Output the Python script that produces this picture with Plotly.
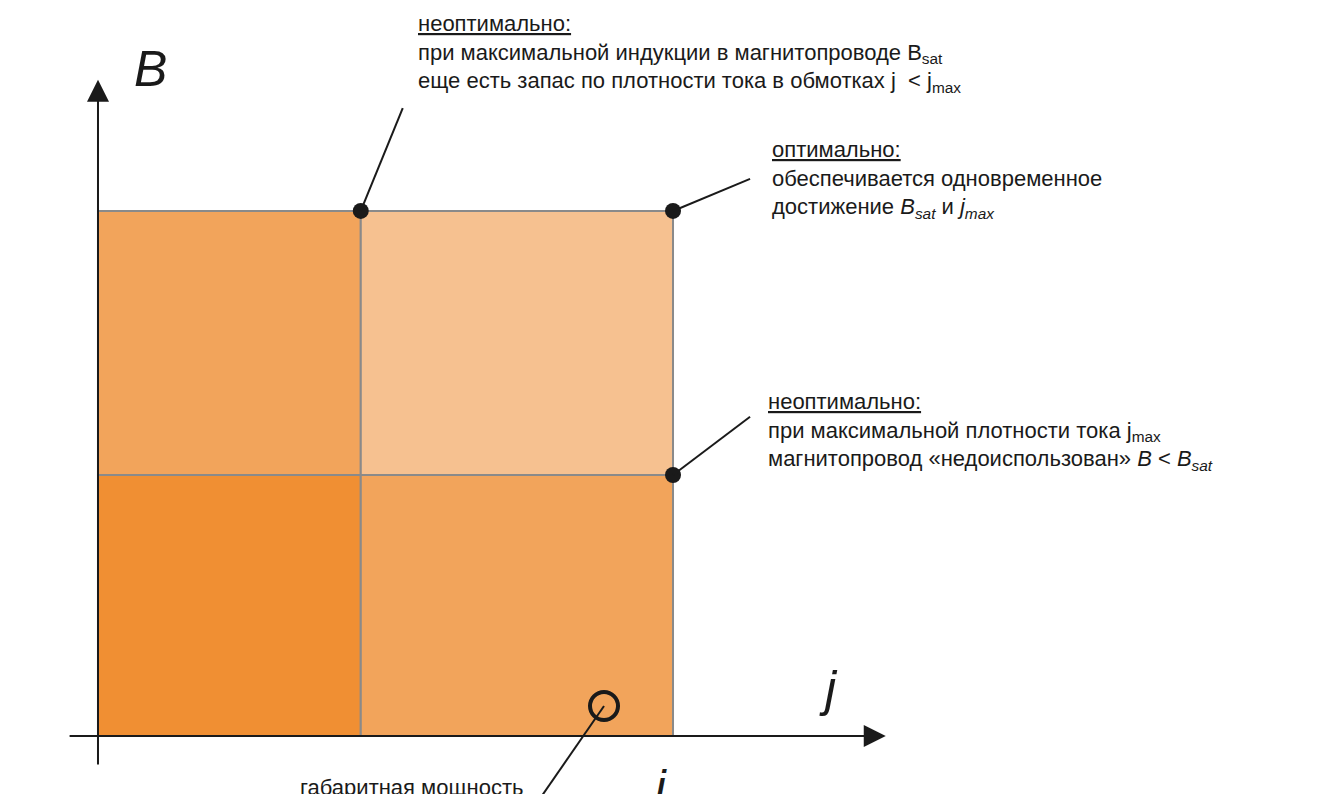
import plotly.graph_objects as go

# diagram values (j in units of j_max, B in units of B_sat)
j_levels = [0.0, 0.457, 1.0]
b_levels = [0.0, 0.497, 1.0]
cell_colors = [["#F08F33", "#F2A45B"],   # bottom row: left, right
               ["#F2A45B", "#F6C190"]]   # top row: left, right
dot_points = [(0.457, 1.0), (1.0, 1.0), (1.0, 0.497)]
ring_point = (0.880, 0.057)

FONT = "Liberation Sans, Arial, sans-serif"

fig = go.Figure()

# cells
for r in range(2):
    for c in range(2):
        fig.add_shape(type="rect", x0=j_levels[c], x1=j_levels[c + 1],
                      y0=b_levels[r], y1=b_levels[r + 1],
                      fillcolor=cell_colors[r][c], line=dict(color="#8a8a8a", width=2),
                      layer="below")

# axes with arrows
fig.add_annotation(x=1.37, y=0, ax=-0.052, ay=0, xref="x", yref="y", axref="x", ayref="y",
                   showarrow=True, arrowhead=2, arrowsize=2.2, arrowwidth=2, arrowcolor="#1a1a1a", text="")
fig.add_annotation(x=0, y=1.25, ax=0, ay=-0.057, xref="x", yref="y", axref="x", ayref="y",
                   showarrow=True, arrowhead=2, arrowsize=2.2, arrowwidth=2, arrowcolor="#1a1a1a", text="")

# leader lines
leaders = [((0.457, 1.0), (0.530, 1.196)),
           ((1.0, 1.0), (1.134, 1.061)),
           ((1.0, 0.497), (1.134, 0.608)),
           (ring_point, (0.760, -0.133))]
for (x0, y0), (x1, y1) in leaders:
    fig.add_shape(type="line", x0=x0, y0=y0, x1=x1, y1=y1, line=dict(color="#1a1a1a", width=2))

fig.add_trace(go.Scatter(x=[p[0] for p in dot_points], y=[p[1] for p in dot_points], mode="markers",
                         marker=dict(size=16, color="#1a1a1a"), hoverinfo="skip"))
fig.add_trace(go.Scatter(x=[ring_point[0]], y=[ring_point[1]], mode="markers",
                         marker=dict(size=28, color="rgba(0,0,0,0)", line=dict(color="#1a1a1a", width=4)),
                         hoverinfo="skip"))

def label(x, y, text, size=22, xanchor="left", yanchor="top"):
    fig.add_annotation(x=x, y=y, xref="x", yref="y", text=text, showarrow=False, align="left",
                       xanchor=xanchor, yanchor=yanchor, font=dict(family=FONT, size=size, color="#1a1a1a"))

# axis labels
label(0.06, 1.27, "<i>B</i>", size=50, yanchor="middle")
label(-0.175, 0.96, "<i>B<sub>sat</sub></i>", size=50, yanchor="middle")
label(1.25, 0.09, "<i>j</i>", size=50, yanchor="middle")
label(0.955, -0.105, "<i>j<sub>max</sub></i>", size=48, yanchor="middle")

# notes
label(0.553, 1.215,
      "<u>неоптимально:</u><br>при максимальной индукции в магнитопроводе B<sub>sat</sub>"
      "<br>еще есть запас по плотности тока в обмотках j  < j<sub>max</sub>", yanchor="bottom")
label(1.169, 1.145,
      "<u>оптимально:</u><br>обеспечивается одновременное<br>достижение <i>B<sub>sat</sub></i> и <i>j<sub>max</sub></i>")
label(1.162, 0.665,
      "<u>неоптимально:</u><br>при максимальной плотности тока j<sub>max</sub>"
      "<br>магнитопровод «недоиспользован» <i>B</i> < <i>B<sub>sat</sub></i>")
label(0.745, -0.098, "габаритная мощность", xanchor="right", yanchor="middle")
fig.add_shape(type="line", x0=0.235, x1=0.760, y0=-0.133, y1=-0.133, line=dict(color="#1a1a1a", width=2))

fig.update_layout(width=1318, height=794, margin=dict(l=0, r=0, t=0, b=0),
                  plot_bgcolor="white", paper_bgcolor="white", showlegend=False,
                  xaxis=dict(range=[-0.1565, 2.1356], visible=False, fixedrange=True),
                  yaxis=dict(range=[-0.1258, 1.3866], visible=False, fixedrange=True))
fig.write_html("out.html")
